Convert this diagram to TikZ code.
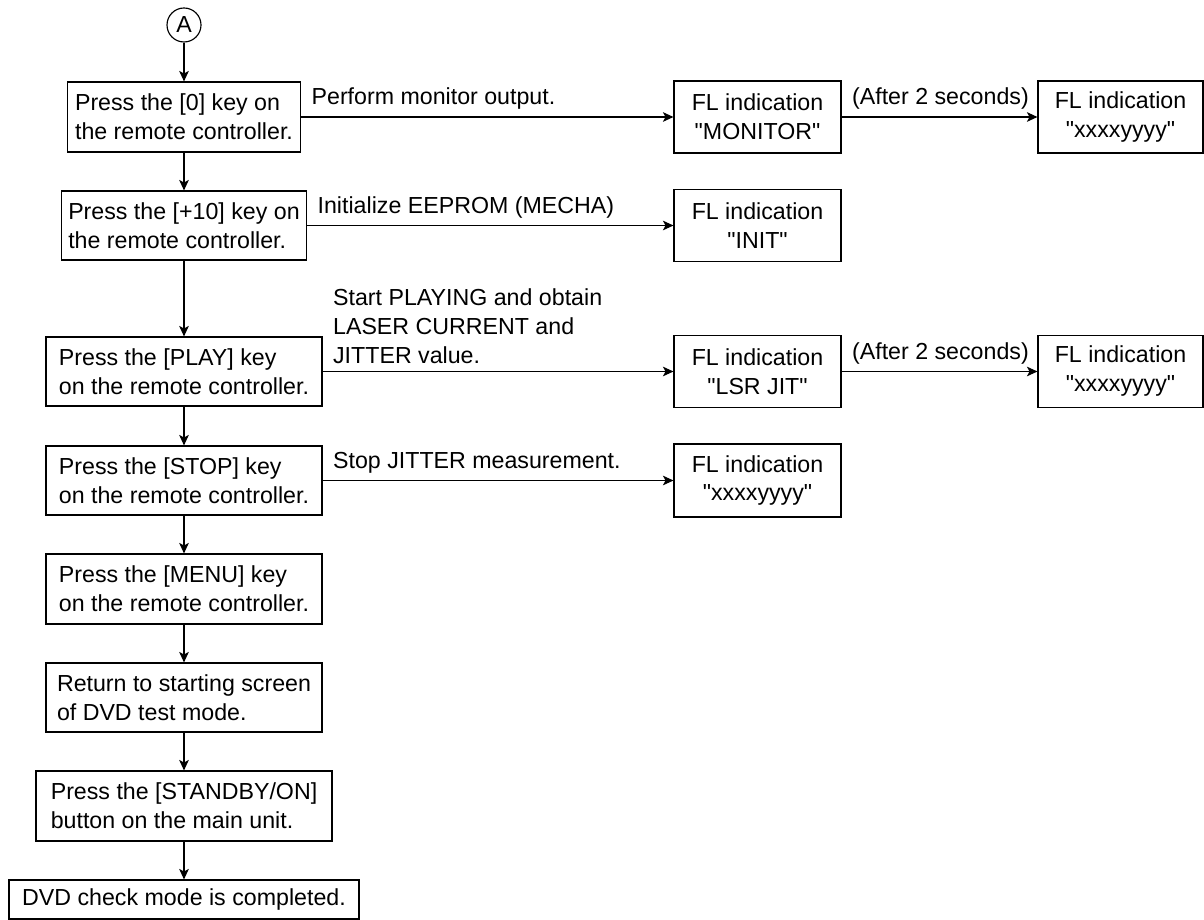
\documentclass[tikz,border=0pt]{standalone}
\usepackage{fontspec}
\setmainfont{Liberation Sans}
\usetikzlibrary{arrows.meta}

\begin{document}
\begin{tikzpicture}[
	font=\fontsize{13.2}{16.5}\selectfont,
	line width=0.65pt,
	stepbox/.style={draw, rectangle, align=left, minimum width=5.52cm, minimum height=1.38cm},
	flbox/.style={draw, rectangle, align=center, minimum width=3.34cm, minimum height=1.44cm},
	arr/.style={-{Stealth[length=6pt, width=5.5pt, inset=1.5pt]}},
	lbl/.style={anchor=south west, align=left, inner xsep=0.2cm, inner ysep=0.14cm}
]
	\useasboundingbox (0,0) rectangle (24.08,-18.4);

	% Connector A
	\node[draw, circle, inner sep=0pt, minimum size=0.68cm] (conA) at (3.68,-0.50) {A};

	% Press [0]
	\node[stepbox, minimum width=4.66cm, minimum height=1.40cm] (key0) at (3.68,-2.34) {Press the [0] key on\\the remote controller.};
	\draw[arr] (conA) -- (key0);

	% Press [+10]
	\node[stepbox, minimum width=4.90cm] (key10) at (3.68,-4.51) {Press the [+10] key on\\the remote controller.};
	\draw[arr] (key0) -- (key10);

	% Press [PLAY]
	\node[stepbox] (keyplay) at (3.68,-7.43) {Press the [PLAY] key\\on the remote controller.};
	\draw[arr] (key10) -- (keyplay);

	% Press [STOP]
	\node[stepbox] (keystop) at (3.68,-9.61) {Press the [STOP] key\\on the remote controller.};
	\draw[arr] (keyplay) -- (keystop);

	% Press [MENU]
	\node[stepbox, minimum height=1.40cm] (keymenu) at (3.68,-11.78) {Press the [MENU] key\\on the remote controller.};
	\draw[arr] (keystop) -- (keymenu);

	% Return to start
	\node[stepbox] (backstart) at (3.68,-13.95) {Return to starting screen\\of DVD test mode.};
	\draw[arr] (keymenu) -- (backstart);

	% Press [STANDBY/ON]
	\node[stepbox, minimum width=5.92cm, minimum height=1.40cm] (standby) at (3.68,-16.12) {Press the [STANDBY/ON]\\button on the main unit.};
	\draw[arr] (backstart) -- (standby);

	% Completed
	\node[stepbox, minimum width=7.00cm, minimum height=0.78cm] (done) at (3.68,-17.99) {DVD check mode is completed.};
	\draw[arr] (standby) -- (done);

	% FL indications
	\node[flbox] (flmonitor) at (15.15,-2.34) {FL indication\\\textquotedbl MONITOR\textquotedbl};
	\draw[arr] (key0) -- (flmonitor) node[lbl, pos=0] {Perform monitor output.};

	\node[flbox, minimum width=3.30cm] (flmonval) at (22.41,-2.34) {FL indication\\\textquotedbl xxxxyyyy\textquotedbl};
	\draw[arr] (flmonitor) -- (flmonval) node[lbl, pos=0] {(After 2 seconds)};

	\node[flbox] (flinit) at (15.15,-4.51) {FL indication\\\textquotedbl INIT\textquotedbl};
	\draw[arr] (key10) -- (flinit) node[lbl, pos=0] {Initialize EEPROM (MECHA)};

	\node[flbox] (fljitter) at (15.15,-7.43) {FL indication\\\textquotedbl LSR JIT\textquotedbl};
	\draw[arr] (keyplay) -- (fljitter) node[lbl, pos=0] {Start PLAYING and obtain\\LASER CURRENT and\\JITTER value.};

	\node[flbox, minimum width=3.30cm] (fljitval) at (22.41,-7.43) {FL indication\\\textquotedbl xxxxyyyy\textquotedbl};
	\draw[arr] (fljitter) -- (fljitval) node[lbl, pos=0] {(After 2 seconds)};

	\node[flbox, minimum height=1.46cm] (flstop) at (15.15,-9.61) {FL indication\\\textquotedbl xxxxyyyy\textquotedbl};
	\draw[arr] (keystop) -- (flstop) node[lbl, pos=0] {Stop JITTER measurement.};
\end{tikzpicture}
\end{document}
